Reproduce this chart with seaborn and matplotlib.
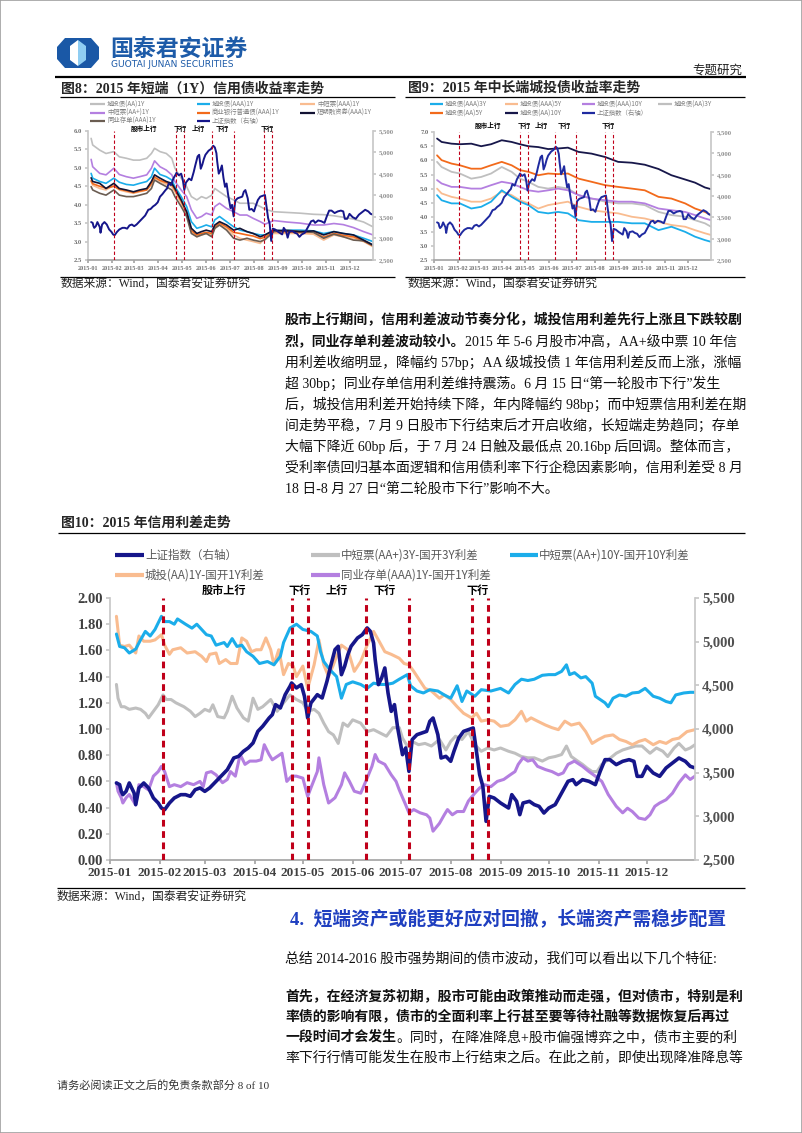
import numpy as np
import pandas as pd
import matplotlib
matplotlib.use("Agg")
import matplotlib.pyplot as plt
import matplotlib.dates as mdates
import matplotlib.transforms as mtransforms
from matplotlib.lines import Line2D
from matplotlib.patches import Polygon, Rectangle
from matplotlib.ticker import FuncFormatter, FixedLocator
import seaborn as sns

# ============================ DATA ============================
# x values: day offsets from 2015-01-01 (calendar date axis)

# ---- Figure 10: credit spreads (%, left axis) and SSE index (right axis)
aap3y_doy = [4,5,7,9,12,16,19,22,24,27,30,33,35,38,41,46,50,53,56,59,62,64,67,71,73,76,79,83,86,89,
             92,95,100,104,108,112,116,120,123,127,130,133,136,139,142,145,148,151,156,160,164,168,172,176,180,
             182,185,188,192,196,200,205,209,212,215,219,223,227,231,235,239,243,248,252,256,260,264,269,273,277,
             281,284,287,291,294,297,300,303,306,310,315,319,323,327,331,336,340,344,347,351,354,358,361,364]
aap3y_spread = [1.34,1.235,1.17,1.17,1.15,1.16,1.15,1.12,1.085,1.135,1.185,1.26,1.225,1.225,1.20,1.17,1.135,1.095,1.12,1.15,
                1.135,1.185,1.095,1.085,1.135,1.25,1.16,1.085,1.06,1.235,1.15,1.17,1.225,1.135,1.20,1.26,1.225,1.20,1.135,1.15,
                1.12,1.045,0.98,0.955,0.89,1.045,1.02,1.07,1.045,0.98,0.995,0.97,0.945,1.01,1.01,0.93,0.87,0.905,0.88,0.89,
                0.87,0.92,0.84,0.905,0.945,0.92,0.98,0.88,0.83,0.855,0.84,0.855,0.83,0.815,0.79,0.78,0.78,0.755,0.78,0.79,
                0.805,0.87,0.79,0.755,0.73,0.70,0.675,0.675,0.73,0.765,0.815,0.84,0.855,0.87,0.87,0.815,0.855,0.83,0.79,0.855,
                0.89,0.84,0.855,0.88]

aap10y_doy = [4,6,9,12,16,19,22,25,28,32,34,37,40,42,47,51,54,57,60,63,66,71,73,76,79,82,85,89,93,98,
              102,106,108,112,116,120,125,129,131,133,137,141,144,147,151,156,160,164,168,172,176,180,185,187,191,195,199,204,208,212,
              216,219,222,227,231,237,243,248,252,256,260,264,269,273,277,281,284,286,289,293,296,300,302,305,308,310,313,317,321,325,
              329,333,338,342,346,349,352,357,361,364]
aap10y_spread = [1.725,1.63,1.62,1.58,1.61,1.68,1.745,1.71,1.76,1.86,1.82,1.82,1.80,1.84,1.80,1.77,1.80,1.76,1.72,1.71,
                 1.64,1.66,1.63,1.69,1.63,1.64,1.59,1.555,1.50,1.515,1.49,1.555,1.66,1.77,1.80,1.76,1.745,1.71,1.59,1.515,
                 1.45,1.40,1.235,1.34,1.36,1.34,1.31,1.35,1.34,1.34,1.35,1.38,1.415,1.33,1.29,1.275,1.30,1.29,1.26,1.235,
                 1.33,1.21,1.29,1.25,1.30,1.29,1.31,1.275,1.34,1.38,1.37,1.38,1.41,1.415,1.415,1.44,1.49,1.415,1.43,1.39,
                 1.40,1.35,1.25,1.225,1.20,1.17,1.235,1.26,1.25,1.275,1.28,1.31,1.25,1.235,1.21,1.20,1.26,1.275,1.28,1.28]

ctaa1y_doy = [4,6,9,12,16,18,21,25,28,32,34,37,39,44,48,53,57,60,62,66,68,72,75,79,82,85,88,91,94,97,
              100,102,105,108,111,114,116,120,123,127,130,133,136,139,141,144,148,152,156,160,164,167,171,175,180,183,186,189,193,196,
              200,205,208,212,216,220,225,228,231,235,239,243,248,252,256,259,262,266,271,275,279,283,287,292,296,300,304,308,313,317,
              321,325,329,333,338,342,346,350,354,359,364]
ctaa1y_spread = [1.86,1.64,1.63,1.64,1.58,1.71,1.67,1.67,1.68,1.72,1.64,1.57,1.605,1.62,1.58,1.59,1.555,1.515,1.57,1.58,
                 1.50,1.53,1.50,1.50,1.695,1.67,1.59,1.605,1.605,1.695,1.605,1.49,1.605,1.415,1.50,1.48,1.40,1.48,1.31,1.49,
                 1.68,1.49,1.40,1.49,1.555,1.64,1.605,1.44,1.515,1.64,1.745,1.68,1.59,1.57,1.54,1.50,1.49,1.44,1.365,1.31,
                 1.29,1.235,1.26,1.225,1.17,1.12,1.085,1.12,1.06,1.07,1.06,1.02,1.03,1.07,1.135,1.06,1.085,1.06,1.03,1.01,
                 0.995,1.06,1.03,1.045,0.98,0.89,0.92,0.945,0.955,0.92,0.905,0.88,0.905,0.92,0.88,0.905,0.89,0.92,0.93,0.98,
                 0.995]

ncd1y_doy = [4,5,7,8,10,12,16,18,21,24,27,30,32,34,37,40,44,48,52,56,58,60,63,66,70,73,75,78,81,84,
             87,91,94,96,99,101,104,107,110,113,116,120,123,125,129,130,133,136,140,144,146,149,152,156,160,163,165,167,171,175,
             178,180,184,186,189,193,197,199,201,205,208,210,213,216,220,223,227,230,233,237,241,245,249,252,254,257,260,263,266,271,
             275,279,282,285,289,294,298,302,306,310,315,319,322,325,329,333,336,339,342,346,350,354,358,361,364]
ncd1y_spread = [0.59,0.525,0.475,0.435,0.475,0.50,0.42,0.575,0.56,0.535,0.64,0.675,0.715,0.675,0.56,0.575,0.56,0.59,0.575,0.60,
                0.56,0.665,0.675,0.65,0.59,0.615,0.675,0.64,0.805,0.73,0.755,0.755,0.765,0.88,0.805,0.765,0.79,0.815,0.60,0.64,
                0.64,0.625,0.485,0.55,0.675,0.78,0.575,0.435,0.475,0.575,0.665,0.60,0.525,0.51,0.625,0.715,0.805,0.755,0.73,0.65,
                0.60,0.535,0.42,0.36,0.385,0.36,0.345,0.32,0.22,0.28,0.345,0.385,0.345,0.37,0.37,0.45,0.51,0.55,0.575,0.56,
                0.60,0.615,0.65,0.675,0.73,0.78,0.755,0.765,0.715,0.69,0.675,0.65,0.665,0.73,0.755,0.715,0.675,0.64,0.60,0.50,
                0.41,0.36,0.395,0.37,0.32,0.31,0.345,0.41,0.435,0.46,0.51,0.59,0.65,0.615,0.64]

sse_doy_h1 = [4,6,7,8,10,12,15,16,18,21,24,27,30,32,34,37,40,44,47,50,53,56,59,62,66,70,73,77,80,83,
              86,89,92,95,99,101,103,106,109,112,113,116,119,121,123,125,129,132,135,137,140,142,144,146,148,150,154,157,160,162,
              164,165,167,169,171,173]
sse_h1 = [3382,3363,3286,3248,3286,3382,3267,3134,3325,3382,3325,3210,3153,3095,3076,3153,3210,3248,3248,3229,
          3305,3325,3286,3325,3401,3477,3534,3668,3687,3744,3783,3840,3973,4031,4126,4164,4279,4241,4393,4489,
          4527,4470,4508,4374,4126,4298,4393,4355,4546,4699,4909,4947,4622,4718,4851,4947,5042,5080,5157,5118,
          4985,4794,4508,4584,4699,4412]
sse_doy_h2 = [175,177,179,182,184,186,188,191,194,197,199,201,204,206,209,212,214,217,220,223,
              226,228,230,232,234,236,239,243,248,250,253,255,257,261,264,267,270,273,277,281,
              285,288,290,294,298,302,305,308,311,315,319,323,326,328,331,334,338,342,346,350,354,358,361,364]
sse_h2 = [4202,4279,4012,3706,3783,3515,3878,3935,3954,3973,4088,4126,3935,3668,3687,3630,3744,3897,3973,3992,
          4012,3744,3477,3344,2943,3229,3210,3153,3095,3248,3172,3019,3153,3172,3134,3114,3038,3095,3134,3267,
          3401,3420,3363,3420,3401,3363,3515,3649,3649,3592,3630,3649,3630,3458,3458,3573,3496,3458,3554,3611,
          3668,3630,3573,3554]

event_dates = ["2015-02-03", "2015-04-24", "2015-05-04", "2015-06-09", "2015-07-06", "2015-08-14", "2015-08-24"]
phase_labels = ["股市上行", "下行", "上行", "下行", "下行"]
phase_dates = ["2015-03-13", "2015-04-29", "2015-05-22", "2015-06-21", "2015-08-18"]

fig10_labels = ["上证指数（右轴）", "中短票(AA+)3Y-国开3Y利差", "中短票(AA+)10Y-国开10Y利差",
                "城投(AA)1Y-国开1Y利差", "同业存单(AAA)1Y-国开1Y利差"]

# ---- Figure 8: 1Y credit yields (%)
fig8_doy = [4,6,15,23,33,40,49,58,66,75,81,85,92,100,107,111,119,126,132,139,
            145,151,158,162,168,177,186,194,203,211,220,226,237,254,271,288,301,314,326,339,352,364]
ct_aa_1y = [5.80,5.62,5.48,5.39,5.44,5.30,5.26,5.21,5.21,5.26,5.39,5.53,5.44,5.39,5.26,4.99,4.72,4.49,4.22,4.13,
            4.22,4.17,4.26,4.44,4.35,4.22,4.13,4.04,4.04,4.04,3.95,3.88,3.81,3.79,3.77,3.74,3.73,3.70,3.66,3.61,3.53,3.40]
ct_aaa_1y = [4.85,4.72,4.63,4.58,4.72,4.61,4.55,4.53,4.58,4.63,4.76,4.99,4.82,4.76,4.67,4.49,4.22,3.95,3.54,3.36,
             3.40,3.45,3.40,3.59,3.68,3.54,3.40,3.31,3.27,3.22,3.18,3.18,3.29,3.31,3.31,3.29,3.22,3.27,3.22,3.18,3.09,3.00]
mtn_aaa_1y = [4.63,4.53,4.44,4.40,4.53,4.40,4.35,4.31,4.35,4.40,4.53,4.72,4.63,4.55,4.49,4.35,4.04,3.77,3.27,3.13,
              3.18,3.22,3.18,3.36,3.45,3.36,3.18,3.09,3.04,3.00,2.95,3.09,3.22,3.22,3.22,3.20,3.04,3.18,3.13,3.09,3.00,2.86]
mtn_aap_1y = [5.23,5.03,4.85,4.81,4.99,4.82,4.76,4.72,4.76,4.81,4.99,5.19,5.03,4.94,4.81,4.63,4.40,4.22,3.86,3.63,
              3.68,3.77,3.72,3.95,4.04,3.90,3.81,3.72,3.72,3.63,3.54,3.47,3.57,3.53,3.50,3.45,3.45,3.49,3.46,3.38,3.27,3.18]
bank_aaa_1y = [4.65,4.57,4.50,4.45,4.50,4.42,4.38,4.33,4.37,4.40,4.58,4.75,4.66,4.60,4.55,4.40,4.10,3.78,3.30,3.18,
               3.22,3.25,3.22,3.40,3.50,3.40,3.25,3.22,3.18,3.15,3.08,3.12,3.27,3.26,3.25,3.25,3.12,3.22,3.17,3.13,3.02,2.88]
cp_aaa_1y = [4.73,4.63,4.58,4.44,4.58,4.44,4.40,4.35,4.40,4.44,4.63,4.81,4.72,4.63,4.58,4.44,4.13,3.81,3.36,3.22,
             3.27,3.31,3.27,3.45,3.54,3.45,3.31,3.36,3.27,3.22,3.13,3.18,3.31,3.29,3.27,3.29,3.18,3.27,3.22,3.18,3.04,2.91]
ncd_aaa_1y = [4.49,4.40,4.31,4.26,4.40,4.26,4.22,4.22,4.26,4.31,4.44,4.67,4.58,4.49,4.40,4.22,3.95,3.68,3.22,3.13,
              3.18,3.22,3.13,3.36,3.45,3.31,3.09,3.04,3.09,3.04,3.00,3.05,3.27,3.31,3.27,3.25,3.09,3.20,3.13,3.04,3.02,2.89]
fig8_labels = ["城投债(AA)1Y", "城投债(AAA)1Y", "中短票(AAA)1Y", "中短票(AA+)1Y", "商业银行普通债(AAA)1Y",
               "短期融资券(AAA)1Y", "同业存单(AAA)1Y", "上证指数（右轴）"]

# ---- Figure 9: mid/long-end LGFV bond yields (%)
fig9_doy = [4,10,23,34,49,62,75,89,102,113,124,137,150,163,176,190,207,225,242,260,277,295,312,330,343,356,364]
ct_aaa_3y = [4.78,4.60,4.49,4.49,4.31,4.37,4.55,4.95,4.72,4.55,4.43,4.19,4.14,4.19,4.14,3.90,3.84,3.84,3.84,3.79,3.79,3.55,3.67,3.49,3.32,3.20,3.14]
ct_aaa_5y = [5.01,4.84,4.72,4.66,4.55,4.55,4.66,4.90,4.78,4.60,4.49,4.31,4.43,4.49,4.55,4.37,4.25,4.19,4.14,4.02,3.96,3.84,3.73,3.67,3.55,3.44,3.38]
ct_aaa_10y = [5.31,5.19,5.07,5.07,5.01,5.01,5.13,5.25,5.19,5.07,4.95,4.90,4.95,5.01,4.95,4.78,4.66,4.60,4.55,4.55,4.49,4.31,4.25,4.19,4.08,3.96,3.90]
ct_aa_3y = [5.95,5.77,5.60,5.54,5.36,5.42,5.54,5.77,5.60,5.36,5.25,5.07,5.01,5.07,5.01,4.78,4.66,4.55,4.49,4.49,4.43,4.19,4.08,4.02,3.90,3.79,3.67]
ct_aa_5y = [6.18,6.01,5.89,5.83,5.71,5.71,5.83,5.95,5.83,5.66,5.60,5.48,5.54,5.52,5.54,5.36,5.25,5.13,5.07,5.01,4.95,4.72,4.66,4.49,4.31,4.19,4.08]
ct_aa_10y = [6.77,6.65,6.59,6.57,6.59,6.50,6.57,6.71,6.65,6.57,6.50,6.47,6.40,6.42,6.45,6.30,6.24,6.12,5.95,5.92,5.85,5.70,5.48,5.33,5.22,5.05,4.99]
fig9_labels = ["城投债(AAA)3Y", "城投债(AAA)5Y", "城投债(AAA)10Y", "城投债(AA)3Y",
               "城投债(AA)5Y", "城投债(AA)10Y", "上证指数（右轴）"]

# ============================ STYLE ============================
sns.set_theme(style="white")
plt.rcParams["font.family"] = ["Noto Sans CJK SC", "DejaVu Sans"]
plt.rcParams["axes.unicode_minus"] = False

C_NAVY = "#16168a"
C_BLUE = "#1badea"
C_PEACH = "#f9bc90"
C_GREY = "#bfbfbf"
C_PURPLE = "#b47fe0"
C_ORANGE = "#f26a1b"
C_BLACK = "#121233"
C_BROWN = "#6b5d52"
C_DNAVY = "#17174a"
C_RED = "#c0001a"
SERIF_CJK = ["Liberation Serif", "Noto Sans CJK SC"]
SANS_CJK = ["Noto Sans CJK SC", "DejaVu Sans"]

W, H = 802, 1133
fig = plt.figure(figsize=(W / 100, H / 100), dpi=100)
fig.patch.set_facecolor("white")
BASE = pd.Timestamp("2015-01-01")
END = pd.Timestamp("2015-12-31")


def to_dates(doy):
    return BASE + pd.to_timedelta(np.asarray(doy, dtype=float), unit="D")


def rect(x0, y0, x1, y1):
    return [x0 / W, 1 - y1 / H, (x1 - x0) / W, (y1 - y0) / H]


def ftext(x, y, s, **kw):
    kw.setdefault("va", "center")
    kw.setdefault("ha", "left")
    return fig.text(x / W, 1 - y / H, s, **kw)


def hline(x0, x1, y, lw=1.0, color="black"):
    fig.add_artist(Line2D([x0 / W, x1 / W], [1 - y / H, 1 - y / H], lw=lw, color=color,
                          solid_capstyle="butt"))


def legend_item(x0, x1, y, color, label, lw, size, tcolor, gap=2):
    fig.add_artist(Line2D([x0 / W, x1 / W], [1 - y / H] * 2, lw=lw, color=color, solid_capstyle="butt"))
    ftext(x1 + gap, y, label, fontsize=size, color=tcolor, family=SANS_CJK)


def draw(ax, doy, vals, color, lw, z=2):
    df = pd.DataFrame({"date": to_dates(doy), "v": vals})
    sns.lineplot(data=df, x="date", y="v", ax=ax, color=color, linewidth=lw, legend=False,
                 estimator=None, zorder=z)
    ax.set_xlabel("")
    ax.set_ylabel("")


def style_labels(labels, size, color, weight="bold"):
    for t in labels:
        t.set_fontfamily("Liberation Serif")
        t.set_fontweight(weight)
        t.set_fontsize(size)
        t.set_color(color)


def setup_chart(ax, ax2, ylim, ystep, yfmt, lab_size, xlab_size, lab_color, rlab_color,
                tick_len, ev_lw, ev_dash, ann_size, ann_y):
    ax.set_xlim(BASE, END)
    ax.set_ylim(*ylim)
    ax.yaxis.set_major_locator(FixedLocator(np.arange(ylim[0], ylim[1] + 1e-9, ystep)))
    ax.yaxis.set_major_formatter(FuncFormatter(lambda v, p: yfmt.format(v)))
    ax2.set_ylim(2500, 5500)
    ax2.yaxis.set_major_locator(FixedLocator(np.arange(2500, 5501, 500)))
    ax2.yaxis.set_major_formatter(FuncFormatter(lambda v, p: f"{v:,.0f}"))
    ax.xaxis.set_major_locator(mdates.MonthLocator(bymonthday=1))
    ax.xaxis.set_major_formatter(mdates.DateFormatter("%Y-%m"))
    for a in (ax, ax2):
        for sp in a.spines.values():
            sp.set_visible(False)
    ax.spines["left"].set_visible(True)
    ax.spines["left"].set_color("#c8c8c8")
    ax.spines["bottom"].set_visible(True)
    ax.spines["bottom"].set_color("#a6a6a6")
    ax2.spines["right"].set_visible(True)
    ax2.spines["right"].set_color("#c8c8c8")
    ax.tick_params(axis="y", left=True, length=tick_len, color="#c8c8c8", pad=2)
    ax.tick_params(axis="x", bottom=True, length=tick_len, color="#a6a6a6", pad=2)
    ax2.tick_params(axis="y", right=True, length=tick_len, color="#c8c8c8", pad=2)
    ax.grid(False)
    ax2.grid(False)
    style_labels(ax.get_yticklabels(), lab_size, lab_color)
    style_labels(ax.get_xticklabels(), xlab_size, lab_color)
    style_labels(ax2.get_yticklabels(), lab_size, rlab_color)
    for d in event_dates:
        ax2.axvline(pd.Timestamp(d), color=C_RED, lw=ev_lw, ls=(0, ev_dash), zorder=6)
    trans = mtransforms.blended_transform_factory(ax2.transData, ax2.transAxes)
    for s, d in zip(phase_labels, phase_dates):
        ax2.text(mdates.date2num(pd.Timestamp(d)), ann_y, s, transform=trans, ha="center", va="center",
                 fontsize=ann_size, fontweight="bold", color="black", family=SANS_CJK)


# ============================ PAGE ============================
fig.add_artist(Rectangle((0, 0), 1, 1, transform=fig.transFigure, fill=False, ec="#a0a0a0", lw=1.2))

# logo
axl = fig.add_axes(rect(57, 38, 99, 68))
axl.set_xlim(0, 42)
axl.set_ylim(0, 30)
axl.axis("off")
axl.add_patch(Polygon([(8, 0), (34, 0), (42, 9), (42, 21), (34, 30), (8, 30), (0, 21), (0, 9)],
                      closed=True, fc="#1a58a6", ec="none"))
axl.add_patch(Polygon([(21, 28), (21, 2), (13, 8), (13, 22)], closed=True, fc="white", ec="none"))
axl.add_patch(Polygon([(21, 28), (29, 22), (29, 8), (21, 2)], closed=True, fc="#8fcdf2", ec="none"))
ftext(110, 50, "国泰君安证券", fontsize=16.5, color="#1d5ba8", family=SANS_CJK, fontweight="bold")
ftext(111, 64.5, "GUOTAI JUNAN SECURITIES", fontsize=6.6, color="#1d5ba8", family=["DejaVu Sans"])
ftext(742, 70, "专题研究", fontsize=9, color="#222222", ha="right", family=SANS_CJK)
hline(55, 746, 77, lw=1.6)

# ---------- Figure 8 ----------
ftext(61, 88.5, "图8：2015 年短端（1Y）信用债收益率走势", fontsize=10, fontweight="bold", family=SERIF_CJK)
hline(60, 395, 96.5, lw=0.9)
f8_cols = [(90, 105), (197, 210), (300, 315)]
f8_rows = [104.3, 112.7, 120.7]
f8_colors = [C_GREY, C_BLUE, C_PEACH, C_PURPLE, C_ORANGE, C_BLACK, C_BROWN, C_NAVY]
for i, (lab, col) in enumerate(zip(fig8_labels, f8_colors)):
    r, c = divmod(i, 3)
    legend_item(f8_cols[c][0], f8_cols[c][1], f8_rows[r], col, lab, 1.6, 4.6, "#7f7f7f")

ax8 = fig.add_axes(rect(88, 131, 373, 260))
for vals, col in zip([ct_aa_1y, mtn_aap_1y, ct_aaa_1y, mtn_aaa_1y, bank_aaa_1y, ncd_aaa_1y, cp_aaa_1y],
                     [C_GREY, C_PURPLE, C_BLUE, C_PEACH, C_ORANGE, C_BROWN, C_BLACK]):
    draw(ax8, fig8_doy, vals, col, 1.2)
ax8b = ax8.twinx()
draw(ax8b, sse_doy_h1 + sse_doy_h2, sse_h1 + sse_h2, C_NAVY, 1.4)
setup_chart(ax8, ax8b, (2.5, 6.0), 0.5, "{:.1f}", 4.8, 4.4, "#707070", "#909090",
            2, 0.8, (3, 2), 4.8, 1.02)
hline(60, 395, 277, lw=0.9)
ftext(61, 284, "数据来源：Wind，国泰君安证券研究", fontsize=8.5, family=SERIF_CJK, color="#222222")

# ---------- Figure 9 ----------
ftext(408, 88.5, "图9：2015 年中长端城投债收益率走势", fontsize=10, fontweight="bold", family=SERIF_CJK)
hline(405, 745, 96.5, lw=0.9)
f9_cols = [(430, 443), (505, 518), (582, 595), (658, 672)]
f9_rows = [104.3, 113.3]
f9_colors = [C_BLUE, C_PEACH, C_PURPLE, C_GREY, C_ORANGE, C_DNAVY, "#1f2aa0"]
for i, (lab, col) in enumerate(zip(fig9_labels, f9_colors)):
    r, c = divmod(i, 4)
    legend_item(f9_cols[c][0], f9_cols[c][1], f9_rows[r], col, lab, 1.6, 4.6, "#7f7f7f")

ax9 = fig.add_axes(rect(434, 132, 711, 260))
for vals, col in zip([ct_aa_10y, ct_aa_5y, ct_aa_3y, ct_aaa_10y, ct_aaa_5y, ct_aaa_3y],
                     [C_DNAVY, C_ORANGE, C_GREY, C_PURPLE, C_PEACH, C_BLUE]):
    draw(ax9, fig9_doy, vals, col, 1.3)
ax9b = ax9.twinx()
draw(ax9b, sse_doy_h1 + sse_doy_h2, sse_h1 + sse_h2, "#1f2aa0", 1.4)
setup_chart(ax9, ax9b, (2.5, 7.0), 0.5, "{:.1f}", 4.8, 4.4, "#707070", "#909090",
            2, 0.8, (3, 2), 4.8, 1.05)
hline(405, 745, 277, lw=0.9)
ftext(408, 284, "数据来源：Wind，国泰君安证券研究", fontsize=8.5, family=SERIF_CJK, color="#222222")

# ---------- body paragraph ----------
renderer = fig.canvas.get_renderer()


def rich_line(x, y, segs, size=10.0, color="#111111"):
    xp = x
    for s, bold in segs:
        t = ftext(xp, y, s, fontsize=size, family=SERIF_CJK, color=color,
                  fontweight="bold" if bold else "normal")
        xp += t.get_window_extent(renderer=renderer).width


para1 = [
    [("股市上行期间，信用利差波动节奏分化，城投信用利差先行上涨且下跌较剧", True)],
    [("烈，同业存单利差波动较小。", True), ("2015 年 5-6 月股市冲高，AA+级中票 10 年信", False)],
    [("用利差收缩明显，降幅约 57bp；AA 级城投债 1 年信用利差反而上涨，涨幅", False)],
    [("超 30bp；同业存单信用利差维持震荡。6 月 15 日“第一轮股市下行”发生", False)],
    [("后，城投信用利差开始持续下降，年内降幅约 98bp；而中短票信用利差在期", False)],
    [("间走势平稳，7 月 9 日股市下行结束后才开启收缩，长短端走势趋同；存单", False)],
    [("大幅下降近 60bp 后，于 7 月 24 日触及最低点 20.16bp 后回调。整体而言，", False)],
    [("受利率债回归基本面逻辑和信用债利率下行企稳因素影响，信用利差受 8 月", False)],
    [("18 日-8 月 27 日“第二轮股市下行”影响不大。", False)],
]
for i, segs in enumerate(para1):
    rich_line(285, 320 + 21.1 * i, segs)

# ---------- Figure 10 ----------
ftext(61, 523, "图10：2015 年信用利差走势", fontsize=10, fontweight="bold", family=SERIF_CJK)
hline(58, 745, 532.5, lw=0.9)
f10_colors = [C_NAVY, C_GREY, C_BLUE, C_PEACH, C_PURPLE]
f10_pos = [(115, 144, 555), (311, 340, 555), (510, 538, 555), (115, 144, 575), (311, 340, 575)]
for lab, col, (x0, x1, y) in zip(fig10_labels, f10_colors, f10_pos):
    legend_item(x0, x1, y, col, lab, 3.0, 8.3, "#595959", gap=1)

axm = fig.add_axes(rect(110, 598, 695, 860))
draw(axm, aap3y_doy, aap3y_spread, C_GREY, 2.2)
draw(axm, ctaa1y_doy, ctaa1y_spread, C_PEACH, 2.2)
draw(axm, aap10y_doy, aap10y_spread, C_BLUE, 2.2)
draw(axm, ncd1y_doy, ncd1y_spread, C_PURPLE, 2.2)
axm2 = axm.twinx()
draw(axm2, sse_doy_h1 + sse_doy_h2, sse_h1 + sse_h2, C_NAVY, 2.6)
setup_chart(axm, axm2, (0.0, 2.0), 0.2, "{:.2f}", 10.5, 9.5, "#404040", "#505050",
            3, 2.2, (2.2, 1.5), 8, 1.03)

hline(57, 745, 888, lw=0.9)
ftext(57, 897, "数据来源：Wind，国泰君安证券研究", fontsize=8.5, family=SERIF_CJK, color="#222222")

# ---------- section 4 ----------
ftext(290, 920, "4.  短端资产或能更好应对回撤，长端资产需稳步配置", fontsize=13.5, fontweight="bold",
      color="#1f3fc0", family=SERIF_CJK)
ftext(285, 958, "总结 2014-2016 股市强势期间的债市波动，我们可以看出以下几个特征:", fontsize=10,
      family=SERIF_CJK, color="#111111")
para2 = [
    [("首先，在经济复苏初期，股市可能由政策推动而走强，但对债市，特别是利", True)],
    [("率债的影响有限，债市的全面利率上行甚至要等待社融等数据恢复后再过", True)],
    [("一段时间才会发生", True), ("。同时，在降准降息+股市偏强博弈之中，债市主要的利", False)],
    [("率下行行情可能发生在股市上行结束之后。在此之前，即使出现降准降息等", False)],
]
for i, segs in enumerate(para2):
    rich_line(285, 996 + 20.4 * i, segs)

ftext(57, 1085, "请务必阅读正文之后的免责条款部分 8 of 10", fontsize=8, family=SERIF_CJK, color="#333333")

fig.savefig("out.png", dpi=100, facecolor="white")
